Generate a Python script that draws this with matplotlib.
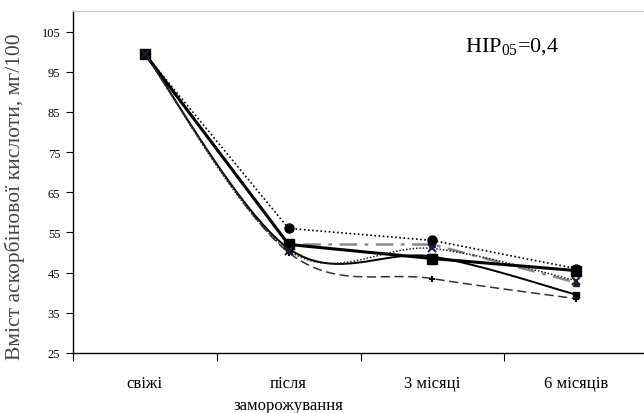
import numpy as np
import matplotlib
matplotlib.use("Agg")
import matplotlib.pyplot as plt

plt.rcParams["font.family"] = ["Liberation Serif", "DejaVu Serif"]
plt.rcParams["mathtext.fontset"] = "custom"
plt.rcParams["mathtext.rm"] = "Liberation Serif"

# categories and series (mg/100 g)
categories = ["свіжі", "після\nзаморожування", "3 місяці", "6 місяців"]
s_circle = [99.5, 56.0, 53.0, 46.0]
s_square = [99.5, 52.0, 48.5, 45.5]
s_solid2 = [99.5, 51.0, 49.0, 39.5]
s_dashed = [99.5, 50.0, 43.5, 38.5]
s_dashdot = [99.5, 52.0, 52.0, 42.5]
s_dotx = [99.5, 50.5, 51.0, 43.0]

y_ticks = [25, 35, 45, 55, 65, 75, 85, 95, 105]


def smooth(xs, ys, n=40):
    # Excel-like smoothed line: cubic Bezier through points
    xs = np.asarray(xs, float)
    ys = np.asarray(ys, float)
    px, py = [], []
    m = len(xs)
    for i in range(m - 1):
        i0, i3 = max(i - 1, 0), min(i + 2, m - 1)
        c1x = xs[i] + (xs[i + 1] - xs[i0]) / 6
        c1y = ys[i] + (ys[i + 1] - ys[i0]) / 6
        c2x = xs[i + 1] - (xs[i3] - xs[i]) / 6
        c2y = ys[i + 1] - (ys[i3] - ys[i]) / 6
        t = np.linspace(0, 1, n)
        b = [(1 - t) ** 3, 3 * (1 - t) ** 2 * t, 3 * (1 - t) * t ** 2, t ** 3]
        px.extend(b[0] * xs[i] + b[1] * c1x + b[2] * c2x + b[3] * xs[i + 1])
        py.extend(b[0] * ys[i] + b[1] * c1y + b[2] * c2y + b[3] * ys[i + 1])
    return px, py


fig = plt.figure(figsize=(6.44, 4.14), dpi=100)
ax = fig.add_axes([0.113, 0.145, 0.887, 0.825])

x = np.arange(len(categories))

# straight lines
ax.plot(x, s_dashdot, color="#8a8a8a", lw=1.8, ls=(0, (7, 3, 1.5, 3)),
        marker="^", ms=5, mfc="#222222", mec="#222222")
ax.plot(x, s_circle, color="black", lw=1.2, ls=(0, (1, 1.5)),
        marker="o", ms=6.5)
ax.plot(x, s_square, color="black", lw=2.2, marker="s", ms=7)

# smoothed lines
sx, sy = smooth(x, s_solid2)
ax.plot(sx, sy, color="black", lw=1.4)
ax.plot(x, s_solid2, ls="none", marker="s", ms=4, color="black")

sx, sy = smooth(x, s_dashed)
ax.plot(sx, sy, color="#333333", lw=1.1, ls=(0, (6, 3)))
ax.plot(x, s_dashed, ls="none", marker="+", ms=5, mew=1.5, color="black")

sx, sy = smooth(x, s_dotx)
ax.plot(sx, sy, color="#222222", lw=1.1, ls=(0, (1, 1.2)))
ax.plot(x, s_dotx, ls="none", marker="x", ms=6, mew=1.5, color="#2a1638")

ax.set_xlim(-0.5, 3.47)
ax.set_ylim(25, 110)
ax.set_yticks(y_ticks)
ax.tick_params(axis="y", direction="out", length=5, width=0.8, pad=4,
               labelsize=9)

# ticks at category boundaries, labels at centres
ax.set_xticks(np.arange(len(categories)) - 0.5)
ax.set_xticklabels([])
ax.set_xticks(x, minor=True)
ax.set_xticklabels(categories, minor=True, fontsize=12, linespacing=1.5)
ax.tick_params(axis="x", which="major", direction="out", length=6, width=0.8)
ax.tick_params(axis="x", which="minor", length=0, pad=16)
for lab in ax.get_xticklabels(minor=True):
    lab.set_verticalalignment("top")

ax.spines["right"].set_visible(False)
ax.spines["top"].set_color("#c8c8c8")
ax.spines["left"].set_linewidth(1.0)
ax.spines["bottom"].set_linewidth(1.0)

ax.set_ylabel("Вміст аскорбінової кислоти, мг/100", fontsize=15.5,
              color="#444444")
ax.yaxis.set_label_coords(-0.083, 0.46)

ax.text(0.686, 0.899, r"HIP$_{\rm 05}$=0,4", transform=ax.transAxes,
        fontsize=16, ha="left", va="center")

plt.savefig("out.png", dpi=100)
plt.close()
